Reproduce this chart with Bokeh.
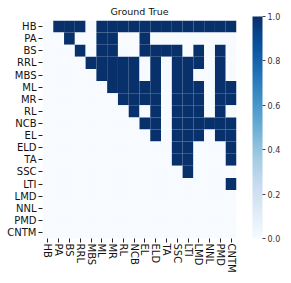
from bokeh.plotting import figure
from bokeh.models import ColumnDataSource, LinearColorMapper, ColorBar, FixedTicker, PrintfTickFormatter, FactorRange
from bokeh.palettes import Blues256
from bokeh.transform import transform
from bokeh.embed import file_html
from bokeh.resources import INLINE

labels = ["HB", "PA", "BS", "RRL", "MBS", "ML", "MR", "RL", "NCB", "EL",
          "ELD", "TA", "SSC", "LTI", "LMD", "NNL", "PMD", "CNTM"]

row_HB   = [0,1,1,1,0,1,1,1,1,1,1,1,1,1,1,1,1,1]
row_PA   = [0,0,1,0,0,1,1,0,0,1,0,0,0,0,0,0,0,0]
row_BS   = [0,0,0,1,0,1,1,0,0,1,1,1,1,0,1,0,1,0]
row_RRL  = [0,0,0,0,1,1,1,1,1,0,1,0,1,1,1,0,1,0]
row_MBS  = [0,0,0,0,0,1,1,1,1,0,1,0,1,1,0,0,1,0]
row_ML   = [0,0,0,0,0,0,1,1,1,1,1,0,1,1,1,0,1,1]
row_MR   = [0,0,0,0,0,0,0,1,1,1,1,0,1,1,1,0,1,1]
row_RL   = [0,0,0,0,0,0,0,0,1,0,1,0,1,1,1,0,1,0]
row_NCB  = [0,0,0,0,0,0,0,0,0,1,1,0,1,1,1,1,1,1]
row_EL   = [0,0,0,0,0,0,0,0,0,0,1,0,1,1,1,0,1,1]
row_ELD  = [0,0,0,0,0,0,0,0,0,0,0,0,1,1,0,0,0,1]
row_TA   = [0,0,0,0,0,0,0,0,0,0,0,0,1,1,0,0,0,1]
row_SSC  = [0,0,0,0,0,0,0,0,0,0,0,0,0,1,0,0,0,0]
row_LTI  = [0,0,0,0,0,0,0,0,0,0,0,0,0,0,0,0,0,1]
row_LMD  = [0,0,0,0,0,0,0,0,0,0,0,0,0,0,0,0,0,0]
row_NNL  = [0,0,0,0,0,0,0,0,0,0,0,0,0,0,0,0,0,0]
row_PMD  = [0,0,0,0,0,0,0,0,0,0,0,0,0,0,0,0,0,0]
row_CNTM = [0,0,0,0,0,0,0,0,0,0,0,0,0,0,0,0,0,0]

matrix = [row_HB, row_PA, row_BS, row_RRL, row_MBS, row_ML, row_MR, row_RL, row_NCB,
          row_EL, row_ELD, row_TA, row_SSC, row_LTI, row_LMD, row_NNL, row_PMD, row_CNTM]

cbar_ticks = [0.0, 0.2, 0.4, 0.6, 0.8, 1.0]

xs, ys, vals = [], [], []
for i, rlab in enumerate(labels):
    for j, clab in enumerate(labels):
        xs.append(clab)
        ys.append(rlab)
        vals.append(matrix[i][j])
src = ColumnDataSource(dict(x=xs, y=ys, v=vals))

palette = list(Blues256)
if palette[0].lower() == "#08306b":
    palette = palette[::-1]
mapper = LinearColorMapper(palette=palette, low=0, high=1)

p = figure(width=283, height=275, output_backend="svg", toolbar_location=None,
           x_range=FactorRange(factors=labels),
           y_range=FactorRange(factors=list(reversed(labels))),
           title="Ground True",
           min_border_left=42, min_border_right=40, min_border_top=18, min_border_bottom=34)

p.rect(x="x", y="y", width=1, height=1, source=src,
       fill_color=transform("v", mapper), line_color=None)

p.title.align = "center"
p.title.text_font = "DejaVu Sans"
p.title.text_font_size = "9.5px"
p.title.text_font_style = "normal"
p.title.text_color = "#111111"
p.title.standoff = 7

for ax in (p.xaxis, p.yaxis):
    ax.axis_line_color = None
    ax.major_tick_in = 0
    ax.major_tick_out = 4
    ax.major_tick_line_color = "#222222"
    ax.minor_tick_line_color = None
    ax.major_label_text_font = "DejaVu Sans"
    ax.major_label_text_font_size = "10px"
    ax.major_label_text_color = "#111111"
    ax.major_label_standoff = 2
p.xaxis.major_label_orientation = "vertical"
p.xaxis.major_label_standoff = 1

p.xgrid.grid_line_color = None
p.ygrid.grid_line_color = None
p.outline_line_color = None
p.background_fill_color = "white"

cb = ColorBar(color_mapper=mapper, width=10, height=222, padding=0, margin=0,
              location=(16, 0),
              ticker=FixedTicker(ticks=cbar_ticks),
              formatter=PrintfTickFormatter(format="%.1f"),
              major_tick_in=0, major_tick_out=3, major_tick_line_color="#444444",
              major_label_text_font="DejaVu Sans", major_label_text_font_size="8px",
              major_label_text_color="#333333", label_standoff=2,
              bar_line_color=None, border_line_color=None, background_fill_color=None)
p.add_layout(cb, "right")

open("out.html", "w").write(file_html(p, INLINE))
